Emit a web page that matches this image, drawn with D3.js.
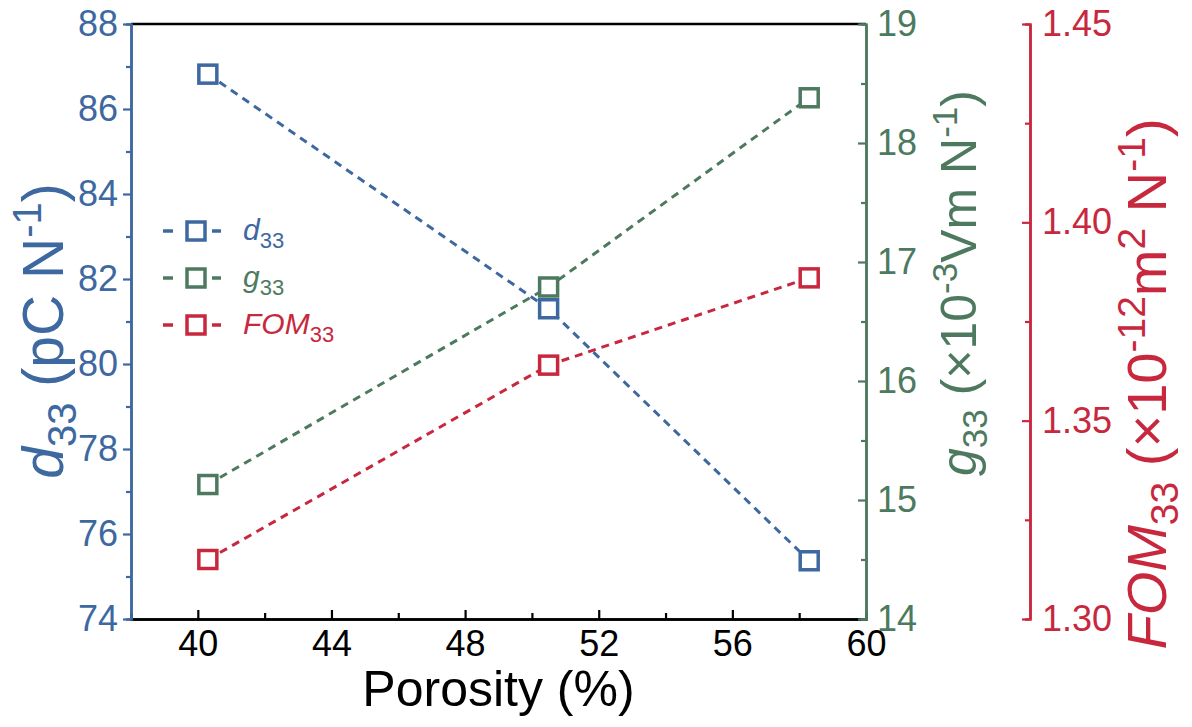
<!DOCTYPE html>
<html>
<head>
<meta charset="utf-8">
<script src="https://cdn.jsdelivr.net/npm/d3@7"></script>
<style>
  body { margin: 0; background: #fff; }
  svg text { font-family: "Liberation Sans", Arial, sans-serif; }
</style>
</head>
<body>
<div id="chart-area"></div>
<script>
// data
var porosity = [40.3, 50.5, 58.3];
var d33 = [86.82, 81.3, 75.37];
var g33 = [15.13, 16.79, 18.38];
var fom33 = [1.315, 1.364, 1.386];

var xTicks = [40, 44, 48, 52, 56, 60];
var d33Ticks = [74, 76, 78, 80, 82, 84, 86, 88];
var g33Ticks = [14, 15, 16, 17, 18, 19];
var fomTicks = [1.30, 1.35, 1.40, 1.45];

var blue = "#3e68a0", green = "#4d7a5f", red = "#c8283e";

var W = 1192, H = 727;
var mL = 131, mR = 866, mT = 24, mB = 619, redX = 1030;

var svg = d3.select("#chart-area").append("svg")
    .attr("width", W).attr("height", H);

var x = d3.scaleLinear().domain([38, 60]).range([mL, mR]);
var yD = d3.scaleLinear().domain([74, 88]).range([mB, mT]);
var yG = d3.scaleLinear().domain([14, 19]).range([mB, mT]);
var yF = d3.scaleLinear().domain([1.30, 1.45]).range([mB, mT]);

function styleAxis(sel, colour, fs) {
    sel.selectAll("path").attr("stroke", colour).attr("stroke-width", 2.5);
    sel.selectAll("line").attr("stroke", colour).attr("stroke-width", 2.2);
    sel.selectAll("text").attr("fill", colour).attr("font-size", fs)
        .attr("font-family", "Liberation Sans, Arial, sans-serif");
}

// top border
svg.append("line").attr("x1", mL).attr("x2", mR).attr("y1", mT).attr("y2", mT)
    .attr("stroke", "#000").attr("stroke-width", 2.5);

// x axis (ticks inward)
var xMinor = svg.append("g").attr("transform", "translate(0," + mB + ")")
    .call(d3.axisBottom(x).tickValues([42, 46, 50, 54, 58]).tickSize(-6).tickFormat(""));
styleAxis(xMinor, "#000", 36);
var xAx = svg.append("g").attr("transform", "translate(0," + mB + ")")
    .call(d3.axisBottom(x).tickValues(xTicks).tickSizeInner(-9).tickSizeOuter(0).tickPadding(11));
styleAxis(xAx, "#000", 36);

// left axis (ticks outward)
var dMinor = svg.append("g").attr("transform", "translate(" + mL + ",0)")
    .call(d3.axisLeft(yD).tickValues([75, 77, 79, 81, 83, 85, 87]).tickSize(5).tickFormat(""));
styleAxis(dMinor, blue, 36);
var dAx = svg.append("g").attr("transform", "translate(" + mL + ",0)")
    .call(d3.axisLeft(yD).tickValues(d33Ticks).tickSizeInner(8).tickSizeOuter(0).tickPadding(5));
styleAxis(dAx, blue, 36);

// green right axis (ticks inward)
var gMinor = svg.append("g").attr("transform", "translate(" + mR + ",0)")
    .call(d3.axisRight(yG).tickValues([14.5, 15.5, 16.5, 17.5, 18.5]).tickSize(-5).tickFormat(""));
styleAxis(gMinor, green, 36);
var gAx = svg.append("g").attr("transform", "translate(" + mR + ",0)")
    .call(d3.axisRight(yG).tickValues(g33Ticks).tickSizeInner(-8).tickSizeOuter(0).tickPadding(11)
        .tickFormat(d3.format("d")));
styleAxis(gAx, green, 36);

// red offset axis
var fMinor = svg.append("g").attr("transform", "translate(" + redX + ",0)")
    .call(d3.axisRight(yF).tickValues([1.325, 1.375, 1.425]).tickSize(-5).tickFormat(""));
styleAxis(fMinor, red, 36);
var fAx = svg.append("g").attr("transform", "translate(" + redX + ",0)")
    .call(d3.axisRight(yF).tickValues(fomTicks).tickSizeInner(-8).tickSizeOuter(0).tickPadding(12)
        .tickFormat(d3.format(".2f")));
styleAxis(fAx, red, 36);

// series
var series = [
    { name: "d33", vals: d33, y: yD, colour: blue },
    { name: "g33", vals: g33, y: yG, colour: green },
    { name: "FOM33", vals: fom33, y: yF, colour: red }
];
var plot = svg.append("g");
series.forEach(function(s) {
    var pts = porosity.map(function(p, i) { return [x(p), s.y(s.vals[i])]; });
    plot.append("path")
        .attr("d", d3.line()(pts))
        .attr("fill", "none").attr("stroke", s.colour).attr("stroke-width", 3)
        .attr("stroke-dasharray", "8,6");
});
series.forEach(function(s) {
    plot.selectAll(null).data(porosity).enter().append("rect")
        .attr("x", function(p) { return x(p) - 9; })
        .attr("y", function(p, i) { return s.y(s.vals[i]) - 9; })
        .attr("width", 18).attr("height", 18)
        .attr("fill", "#fff").attr("stroke", s.colour).attr("stroke-width", 3.5);
});

// legend
var legend = svg.append("g").attr("transform", "translate(163,231)");
var legendText = [["d", "33"], ["g", "33"], ["FOM", "33"]];
series.forEach(function(s, i) {
    var row = legend.append("g").attr("transform", "translate(0," + (i * 47) + ")");
    row.append("line").attr("x1", 0).attr("x2", 10).attr("y1", 0).attr("y2", 0)
        .attr("stroke", s.colour).attr("stroke-width", 3.5);
    row.append("line").attr("x1", 49).attr("x2", 58).attr("y1", 0).attr("y2", 0)
        .attr("stroke", s.colour).attr("stroke-width", 3.5);
    row.append("rect").attr("x", 24).attr("y", -9).attr("width", 18).attr("height", 18)
        .attr("fill", "#fff").attr("stroke", s.colour).attr("stroke-width", 3.5);
    var t = row.append("text").attr("x", 80).attr("y", 9).attr("fill", s.colour)
        .attr("font-size", 30);
    t.append("tspan").attr("font-style", "italic").text(legendText[i][0]);
    t.append("tspan").attr("font-size", 22).attr("dy", 8).text(legendText[i][1]);
});

// axis titles
function title(g, parts, colour, fs) {
    var sub = Math.round(fs * 0.7), sh = fs * 0.22, su = fs * 0.38;
    var t = g.append("text").attr("text-anchor", "middle").attr("fill", colour).attr("font-size", fs);
    parts.forEach(function(p) {
        var ts = t.append("tspan").text(p.t);
        if (p.i) ts.attr("font-style", "italic");
        if (p.s === "sub") ts.attr("font-size", sub).attr("dy", sh);
        if (p.s === "sup") ts.attr("font-size", sub).attr("dy", -su);
        if (p.s === "fromSub") ts.attr("dy", -sh);
        if (p.s === "fromSup") ts.attr("dy", su);
    });
    return t;
}

svg.append("text").attr("x", (mL + mR) / 2).attr("y", 706).attr("text-anchor", "middle")
    .attr("font-size", 50).attr("fill", "#000").text("Porosity (%)");

var tl = svg.append("g").attr("transform", "translate(63,331) rotate(-90)");
title(tl, [{ t: "d", i: true }, { t: "33", s: "sub" }, { t: " (pC N", s: "fromSub" },
    { t: "-1", s: "sup" }, { t: ")", s: "fromSup" }], blue, 57);

var tg = svg.append("g").attr("transform", "translate(976,283) rotate(-90)");
title(tg, [{ t: "g", i: true }, { t: "33", s: "sub" }, { t: " (\u00d710", s: "fromSub" },
    { t: "-3", s: "sup" }, { t: "Vm N", s: "fromSup" }, { t: "-1", s: "sup" }, { t: ")", s: "fromSup" }], green, 50);

var tf = svg.append("g").attr("transform", "translate(1166,384) rotate(-90)");
title(tf, [{ t: "FOM", i: true }, { t: "33", s: "sub" }, { t: " (\u00d710", s: "fromSub" },
    { t: "-12", s: "sup" }, { t: "m", s: "fromSup" }, { t: "2", s: "sup" }, { t: " N", s: "fromSup" },
    { t: "-1", s: "sup" }, { t: ")", s: "fromSup" }], red, 56);
</script>
</body>
</html>
